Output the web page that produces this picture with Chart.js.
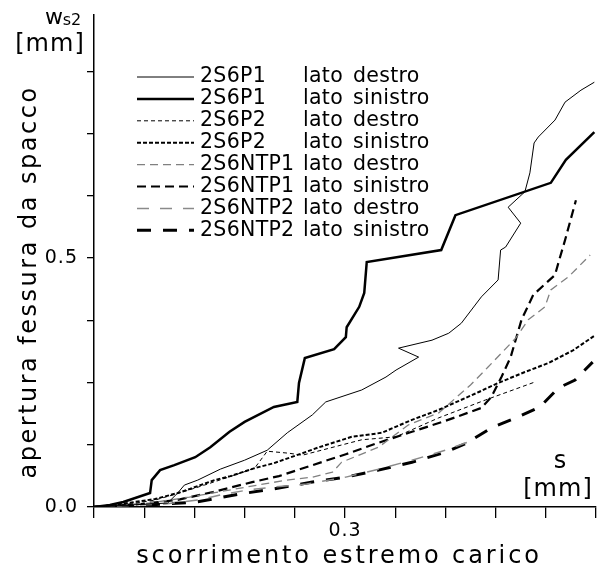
<!DOCTYPE html>
<html>
<head>
<meta charset="utf-8">
<script src="https://cdn.jsdelivr.net/npm/chart.js@4.4.1/dist/chart.umd.min.js"></script>
<style>
  html, body { margin: 0; padding: 0; background: #fff; }
  #wrap { width: 599px; height: 584px; }
</style>
</head>
<body>
<div id="wrap"><canvas id="chart" width="599" height="584"></canvas></div>
<script>
// slip s [mm] vs crack opening ws2 [mm], one curve per specimen side
const specimens = ['2S6P1', '2S6P1', '2S6P2', '2S6P2', '2S6NTP1', '2S6NTP1', '2S6NTP2', '2S6NTP2']
const sides = ['destro', 'sinistro', 'destro', 'sinistro', 'destro', 'sinistro', 'destro', 'sinistro']

const p1Destro = [
  [0, 0], [0.043, 0.004], [0.088, 0.008], [0.100, 0.028], [0.108, 0.044], [0.124, 0.054],
  [0.151, 0.076], [0.180, 0.094], [0.207, 0.114], [0.231, 0.149], [0.261, 0.185], [0.277, 0.211],
  [0.320, 0.235], [0.349, 0.261], [0.361, 0.275], [0.388, 0.301], [0.364, 0.319], [0.404, 0.335],
  [0.424, 0.349], [0.439, 0.369], [0.463, 0.422], [0.483, 0.456], [0.486, 0.516], [0.492, 0.522],
  [0.510, 0.570], [0.495, 0.602], [0.515, 0.633], [0.521, 0.671], [0.526, 0.731], [0.531, 0.743],
  [0.551, 0.777], [0.563, 0.813], [0.582, 0.837], [0.598, 0.853],
]
const p1Sinistro = [
  [0, 0], [0.019, 0.004], [0.035, 0.010], [0.067, 0.028], [0.069, 0.054], [0.079, 0.074],
  [0.096, 0.084], [0.121, 0.100], [0.139, 0.120], [0.162, 0.151], [0.180, 0.171], [0.215, 0.201],
  [0.243, 0.211], [0.245, 0.249], [0.252, 0.299], [0.287, 0.317], [0.301, 0.341], [0.302, 0.361],
  [0.317, 0.402], [0.323, 0.430], [0.326, 0.492], [0.415, 0.516], [0.432, 0.586], [0.546, 0.651],
  [0.564, 0.697], [0.598, 0.753],
]
const p2Destro = [
  [0, 0], [0.043, 0.006], [0.073, 0.014], [0.102, 0.028], [0.132, 0.044], [0.168, 0.064],
  [0.192, 0.078], [0.207, 0.112], [0.233, 0.108], [0.249, 0.104], [0.281, 0.118], [0.320, 0.135],
  [0.361, 0.141], [0.412, 0.179], [0.468, 0.215], [0.527, 0.251],
]
const p2Sinistro = [
  [0, 0], [0.032, 0.006], [0.073, 0.016], [0.100, 0.028], [0.114, 0.036], [0.144, 0.054],
  [0.163, 0.062], [0.192, 0.078], [0.215, 0.088], [0.249, 0.108], [0.269, 0.120], [0.308, 0.141],
  [0.344, 0.149], [0.380, 0.175], [0.412, 0.195], [0.460, 0.231], [0.483, 0.249], [0.515, 0.271],
  [0.543, 0.289], [0.573, 0.315], [0.599, 0.345],
]
const ntp1Destro = [
  [0, 0], [0.067, 0.008], [0.114, 0.020], [0.182, 0.040], [0.230, 0.054], [0.261, 0.060],
  [0.285, 0.070], [0.296, 0.090], [0.340, 0.120], [0.376, 0.165], [0.412, 0.189], [0.450, 0.245],
  [0.471, 0.281], [0.504, 0.339], [0.519, 0.376], [0.539, 0.402], [0.546, 0.436], [0.567, 0.462],
  [0.593, 0.506],
]
const ntp1Sinistro = [
  [0, 0], [0.055, 0.006], [0.099, 0.014], [0.142, 0.030], [0.189, 0.050], [0.221, 0.062],
  [0.261, 0.084], [0.301, 0.106], [0.340, 0.129], [0.380, 0.151], [0.420, 0.173], [0.463, 0.199],
  [0.475, 0.221], [0.487, 0.261], [0.498, 0.301], [0.511, 0.376], [0.525, 0.426], [0.551, 0.466],
  [0.555, 0.490], [0.563, 0.536], [0.576, 0.616],
]
const ntp2Destro = [
  [0, 0], [0.085, 0.006], [0.124, 0.014], [0.151, 0.024], [0.183, 0.034], [0.215, 0.040],
  [0.254, 0.046], [0.301, 0.060], [0.340, 0.076], [0.380, 0.094], [0.420, 0.114], [0.448, 0.131],
]
const ntp2Sinistro = [
  [0, 0], [0.067, 0.004], [0.123, 0.010], [0.174, 0.026], [0.221, 0.038], [0.261, 0.050],
  [0.301, 0.060], [0.340, 0.074], [0.380, 0.090], [0.420, 0.110], [0.444, 0.127], [0.475, 0.159],
  [0.507, 0.181], [0.533, 0.201], [0.555, 0.239], [0.575, 0.255], [0.596, 0.291],
]
const curves = [p1Destro, p1Sinistro, p2Destro, p2Sinistro, ntp1Destro, ntp1Sinistro, ntp2Destro, ntp2Sinistro]

const xTicks = [0, 0.06, 0.12, 0.18, 0.24, 0.3, 0.36, 0.42, 0.48, 0.54, 0.6]
const yTicks = [0, 0.125, 0.25, 0.375, 0.5, 0.625, 0.75, 0.875]
const xLabelled = [0.3]
const yLabelled = [0, 0.5]

// line look per curve: width, dash, colour
const looks = [
  { w: 1, dash: [], c: '#000' },
  { w: 2.5, dash: [], c: '#000' },
  { w: 1, dash: [4, 3], c: '#000' },
  { w: 2, dash: [4, 2], c: '#000' },
  { w: 1.3, dash: [8, 5], c: '#808080' },
  { w: 2.2, dash: [9, 5], c: '#000' },
  { w: 1.5, dash: [12, 11], c: '#8a8a8a' },
  { w: 3, dash: [14, 12], c: '#000' },
]

const FONT = "'DejaVu Sans', sans-serif"

function text(ctx, str, x, y, size, align, spacing) {
  ctx.font = `${size}px ${FONT}`
  ctx.letterSpacing = (spacing || 0) + 'px'
  ctx.textAlign = align || 'left'
  ctx.textBaseline = 'middle'
  ctx.fillText(str, x, y)
}

const annotations = {
  id: 'annotations',
  afterDraw(chart) {
    const ctx = chart.ctx
    const { x: xs, y: ys } = chart.scales
    ctx.save()
    ctx.fillStyle = '#000'

    // tick numbers, only a few are written out
    xLabelled.forEach(v => text(ctx, v.toFixed(1), xs.getPixelForValue(v), 531, 19, 'center', 1))
    yLabelled.forEach(v => text(ctx, v.toFixed(1), 78, ys.getPixelForValue(v), 19, 'right', 1))

    // key
    specimens.forEach((name, i) => {
      const y = 77 + i * 21.9
      const lk = looks[i]
      ctx.beginPath()
      ctx.strokeStyle = lk.c
      ctx.lineWidth = lk.w
      ctx.setLineDash(lk.dash)
      ctx.moveTo(137, y)
      ctx.lineTo(194, y)
      ctx.stroke()
      ctx.setLineDash([])
      text(ctx, name, 200, y, 20.5, 'left', 0.3)
      text(ctx, 'lato', 303, y, 20.5, 'left', 0.3)
      text(ctx, sides[i], 353, y, 20.5, 'left', 0.3)
    })

    // axis names and units
    text(ctx, 'scorrimento estremo carico', 339, 557, 24, 'center', 2.9)
    text(ctx, 's', 560, 462, 24, 'center')
    text(ctx, '[mm]', 558, 490, 24, 'center', 1)
    text(ctx, 'w', 54, 18, 22, 'center')
    text(ctx, 's2', 72, 21, 16, 'center')
    text(ctx, '[mm]', 50, 45, 24, 'center', 1)

    ctx.translate(30, 282)
    ctx.rotate(-Math.PI / 2)
    text(ctx, 'apertura fessura da spacco', 0, 0, 24, 'center', 2.5)
    ctx.restore()
  },
}

new Chart(document.getElementById('chart'), {
  type: 'line',
  data: {
    datasets: curves.map((pts, i) => ({
      label: specimens[i] + ' lato ' + sides[i],
      data: pts.map(([x, y]) => ({ x, y })),
      borderColor: looks[i].c,
      borderWidth: looks[i].w,
      borderDash: looks[i].dash,
      pointRadius: 0,
      tension: 0,
      fill: false,
    })),
  },
  options: {
    responsive: false,
    animation: false,
    layout: { padding: { top: 15, right: 1, left: 0, bottom: 0 } },
    plugins: { legend: { display: false }, tooltip: { enabled: false } },
    scales: {
      x: {
        type: 'linear', min: 0, max: 0.6,
        afterFit: s => { s.height = 77 },
        afterBuildTicks: s => { s.ticks = xTicks.map(value => ({ value })) },
        border: { color: '#000', width: 1.5 },
        grid: { drawOnChartArea: false, drawTicks: true, tickLength: 11, color: '#000', lineWidth: 1.3 },
        ticks: { autoSkip: false, maxRotation: 0, callback: () => '' },
      },
      y: {
        type: 'linear', min: 0, max: 0.988,
        afterFit: s => { s.width = 94 },
        afterBuildTicks: s => { s.ticks = yTicks.map(value => ({ value })) },
        border: { color: '#000', width: 1.5 },
        grid: { drawOnChartArea: false, drawTicks: true, tickLength: 7, color: '#000', lineWidth: 1.3 },
        ticks: { autoSkip: false, callback: () => '' },
      },
    },
  },
  plugins: [annotations],
})
</script>
</body>
</html>
